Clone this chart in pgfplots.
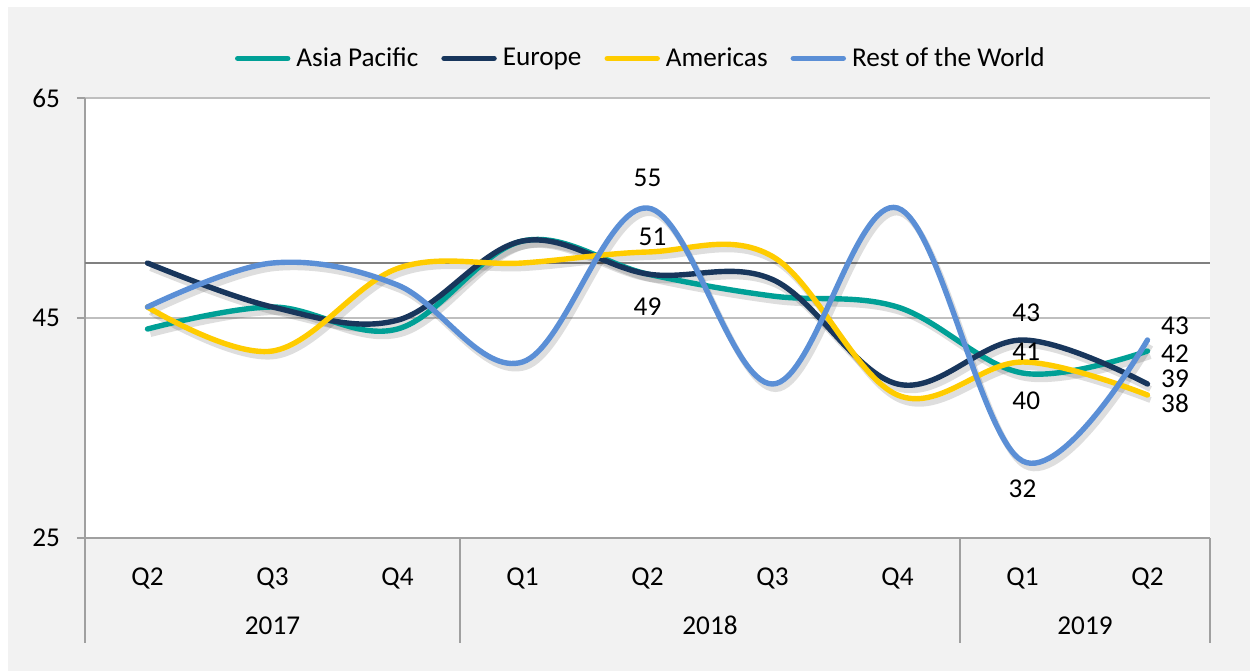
\documentclass[border=0pt]{standalone}
\usepackage{fontspec}
\setmainfont{Carlito}
\usepackage{pgfplots}
\pgfplotsset{compat=1.18}

\definecolor{asia}{RGB}{0,160,150}
\definecolor{europe}{RGB}{24,54,92}
\definecolor{amer}{RGB}{255,204,0}
\definecolor{rest}{RGB}{91,143,214}
\definecolor{bg}{RGB}{242,242,242}
\definecolor{axgray}{RGB}{160,160,160}

\pgfplotsset{
  shadowline/.style={line width=3pt, black, opacity=0.13, smooth, tension=0.6,
    no markers, forget plot, xshift=1.5pt, yshift=-2.5pt},
  series/.style={line width=2.7pt, #1, smooth, tension=0.6, no markers, line cap=round},
}

\begin{document}
\begin{tikzpicture}
\fill[white] (-42.5pt,-66.5pt) rectangle (582.5pt,269pt);
\fill[bg] (-38.5pt,-66.5pt) rectangle (582.5pt,265.5pt);
\begin{axis}[
    at={(0pt,0pt)}, anchor=south west,
    scale only axis, width=562.5pt, height=220pt,
    font=\fontsize{13.6}{16}\selectfont,
    /pgf/number format/assume math mode=true,
    axis background/.style={fill=white},
    xmin=-0.5, xmax=8.5, ymin=25, ymax=65,
    xtick={0,...,8},
    xticklabels={Q2,Q3,Q4,Q1,Q2,Q3,Q4,Q1,Q2},
    xtick style={draw=none},
    xticklabel style={anchor=base, yshift=-19.5pt},
    ytick={25,45,65},
    ytick style={axgray, line width=0.8pt},
    major tick length=4pt,
    tick align=outside,
    yticklabel style={xshift=-5pt},
    axis x line*=bottom, axis y line*=left,
    axis line style={axgray, line width=0.8pt},
    ymajorgrids, grid style={black!25, line width=0.9pt},
    clip=false,
    legend style={at={(0.495,1.09)}, anchor=center, draw=none, fill=none,
      legend columns=4, font=\fontsize{13.6}{16}\selectfont},
    legend cell align=left,
    /tikz/every odd column/.append style={column sep=1pt},
    /tikz/every even column/.append style={column sep=9.5pt},
    legend image code/.code={\draw[#1, line cap=round] (0pt,0pt) -- (25pt,0pt);},
]
% reference line at 50
\addplot[forget plot, black!50, line width=1pt] coordinates {(-0.5,50) (8.5,50)};

% shadows
\addplot[shadowline] coordinates {(0,44) (1,46) (2,44) (3,52) (4,49) (5,47) (6,46) (7,40) (8,42)};
\addplot[shadowline] coordinates {(0,50) (1,46) (2,44.8) (3,52) (4,49) (5,48.5) (6,39) (7,43) (8,39)};
\addplot[shadowline] coordinates {(0,46) (1,42) (2,49.5) (3,50) (4,51) (5,50.6) (6,38) (7,41) (8,38)};
\addplot[shadowline] coordinates {(0,46) (1,50) (2,48) (3,41) (4,55) (5,39) (6,55) (7,32) (8,43)};

% series
\addplot[series=asia] coordinates {(0,44) (1,46) (2,44) (3,52) (4,49) (5,47) (6,46) (7,40) (8,42)};
\addlegendentry{Asia Pacific}
\addplot[series=europe] coordinates {(0,50) (1,46) (2,44.8) (3,52) (4,49) (5,48.5) (6,39) (7,43) (8,39)};
\addlegendentry{Europe}
\addplot[series=amer] coordinates {(0,46) (1,42) (2,49.5) (3,50) (4,51) (5,50.6) (6,38) (7,41) (8,38)};
\addlegendentry{Americas}
\addplot[series=rest] coordinates {(0,46) (1,50) (2,48) (3,41) (4,55) (5,39) (6,55) (7,32) (8,43)};
\addlegendentry{Rest of the World}

% data labels
\node at (axis cs:4,57.7) {55};
\node at (axis cs:4.04,52.4) {51};
\node at (axis cs:4,46.0) {49};
\node at (axis cs:7.03,45.45) {43};
\node at (axis cs:7.03,41.9) {41};
\node at (axis cs:7.03,37.5) {40};
\node at (axis cs:7,29.5) {32};
\node at (axis cs:8.22,44.3) {43};
\node at (axis cs:8.22,41.8) {42};
\node at (axis cs:8.22,39.45) {39};
\node at (axis cs:8.22,37.2) {38};

% year groups
\draw[axgray, line width=0.8pt] (axis cs:-0.5,25) -- ([yshift=-52.5pt]axis cs:-0.5,25);
\draw[axgray, line width=0.8pt] (axis cs:2.5,25) -- ([yshift=-52.5pt]axis cs:2.5,25);
\draw[axgray, line width=0.8pt] (axis cs:6.5,25) -- ([yshift=-52.5pt]axis cs:6.5,25);
\draw[axgray, line width=0.8pt] (axis cs:8.5,25) -- ([yshift=-52.5pt]axis cs:8.5,25);
\node[anchor=base] at ([yshift=-48pt]axis cs:1,25) {2017};
\node[anchor=base] at ([yshift=-48pt]axis cs:4.5,25) {2018};
\node[anchor=base] at ([yshift=-48pt]axis cs:7.5,25) {2019};
\end{axis}
\end{tikzpicture}
\end{document}
